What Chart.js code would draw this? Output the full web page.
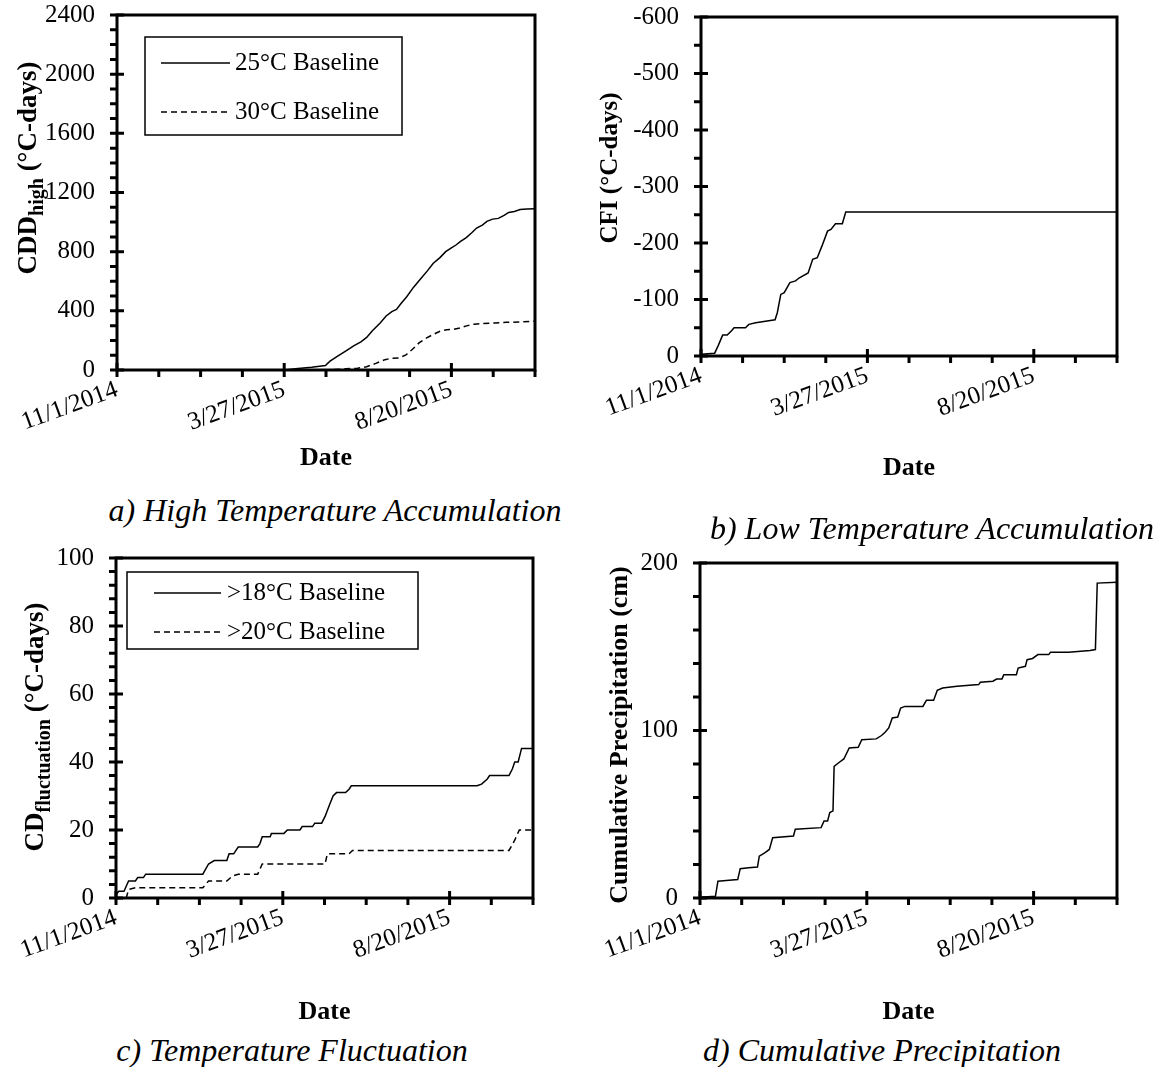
<!DOCTYPE html>
<html>
<head>
<meta charset="utf-8">
<script src="https://cdn.jsdelivr.net/npm/chart.js@4"></script>
<style>
  body { margin: 0; background: #fff; }
  #page { position: relative; width: 1162px; height: 1067px; overflow: hidden; }
  .panel { position: absolute; }
  .caption {
    position: absolute; width: 600px; text-align: center;
    font: italic 32px 'Liberation Serif', 'Times New Roman', serif;
    line-height: 38px; color: #000; white-space: nowrap;
  }
</style>
</head>
<body>
<div id="page">
  <canvas class="panel" id="chartA" width="560" height="474" style="left:0;top:0"></canvas>
  <canvas class="panel" id="chartB" width="582" height="484" style="left:580px;top:0"></canvas>
  <canvas class="panel" id="chartC" width="560" height="488" style="left:0;top:540px"></canvas>
  <canvas class="panel" id="chartD" width="582" height="488" style="left:580px;top:540px"></canvas>
  <div class="caption" style="left:35px;top:491px">a) High Temperature Accumulation</div>
  <div class="caption" style="left:632px;top:509px">b) Low Temperature Accumulation</div>
  <div class="caption" style="left:-8px;top:1031px">c) Temperature Fluctuation</div>
  <div class="caption" style="left:582px;top:1031px">d) Cumulative Precipitation</div>
</div>
<script>
// x values are days since 11/1/2014
var xTickDays = [0, 146, 292];
var xTickLabels = ['11/1/2014', '3/27/2015', '8/20/2015'];
var xMinorStep = 36.5;

// a) cooling degree days
var cdd25Days = [146, 158, 170, 182, 186, 192, 201, 207, 213, 218, 223, 230, 235, 240, 244, 248, 253, 259, 265, 271, 276, 282, 287, 292, 296, 300, 305, 310, 314, 319, 323, 328, 333, 338, 342, 347, 352, 358, 365];
var cdd25 = [0, 10, 18, 30, 60, 90, 135, 165, 190, 220, 265, 320, 365, 395, 410, 450, 495, 560, 615, 670, 720, 760, 800, 825, 845, 870, 895, 930, 960, 980, 1005, 1020, 1025, 1045, 1065, 1072, 1085, 1088, 1090];
var cdd30Days = [146, 175, 190, 200, 210, 218, 226, 234, 240, 246, 252, 258, 264, 270, 276, 282, 288, 294, 300, 306, 312, 320, 330, 340, 352, 365];
var cdd30 = [0, 0, 3, 8, 12, 22, 45, 70, 80, 82, 100, 140, 185, 215, 240, 262, 272, 275, 285, 300, 310, 315, 318, 322, 325, 330];

// b) cumulative freezing index
var cfiDays = [0, 12, 15, 19, 23, 27, 29, 39, 42, 48, 58, 65, 67, 70, 73, 78, 83, 86, 94, 98, 102, 106, 111, 114, 118, 124, 127, 365];
var cfi = [-3, -5, -18, -37, -37, -45, -50, -50, -56, -59, -62, -64, -77, -109, -112, -130, -133, -138, -147, -171, -174, -194, -221, -224, -234, -234, -255, -255];

// c) fluctuation degree days
var cd18Days = [0, 2.5, 7, 11, 17, 19, 24, 26, 76, 81, 86, 97, 99, 103, 105, 107, 124, 126, 128, 135, 136, 147, 150, 161, 163, 172, 174, 180, 183, 187, 190, 193, 201, 204, 206, 316, 320, 325, 327, 344, 347, 349, 352, 355, 365];
var cd18 = [1, 2, 2, 5, 5, 6, 6, 7, 7, 10, 11, 11, 13, 13, 14, 15, 15, 16, 18, 18, 19, 19, 20, 20, 21, 21, 22, 22, 24, 27.5, 30, 31, 31, 32, 33, 33, 33.5, 35, 36, 36, 38, 40, 40, 44, 44];
var cd20Days = [0, 9, 11, 17, 76, 81, 97, 102, 107, 124, 128, 183, 185, 204, 207, 344, 349, 353, 365];
var cd20 = [0, 0, 2.5, 3, 3, 5, 5, 6.5, 7, 7, 10, 10, 13, 13, 14, 14, 17, 20, 20];

// d) cumulative precipitation (cm)
var rainDays = [0, 13.5, 15.7, 20.5, 33, 35.2, 42.5, 50.3, 51.9, 56.6, 60.7, 63.6, 81.8, 83.4, 106, 108.6, 111.7, 113.6, 116.4, 117.4, 121.1, 125.9, 130.6, 138.5, 141.6, 154.2, 158.9, 162, 165.2, 168.3, 173.1, 175.6, 179.4, 195.1, 198.2, 204.5, 207.7, 212.4, 225, 243.9, 245.4, 256.4, 259.6, 264.3, 265.9, 276.9, 278.5, 284.8, 286.3, 291.1, 295.8, 305.2, 306.8, 322.5, 341.4, 346.1, 347.7, 365];
var rain = [0.4, 1, 10, 10.3, 11, 17.5, 18, 18.5, 25, 27, 29, 36, 37, 41, 42, 46, 46, 51, 52, 78.6, 80.6, 83, 89.6, 90, 94.5, 95, 97, 99, 101.5, 107.5, 108, 113.4, 114.4, 114.4, 118, 118, 124, 125.4, 126.4, 127.4, 128.8, 129.4, 130.7, 130.7, 133.3, 133.3, 137.3, 138.3, 142.3, 143, 145.3, 145.3, 146.7, 146.7, 147.7, 148.3, 188, 188.5];

var serif = "'Liberation Serif', 'Times New Roman', serif";
Chart.defaults.font.family = serif;
Chart.defaults.color = '#000';

function points(days, vals) {
    return days.map(function (d, i) { return { x: d, y: vals[i] }; });
}

function series(label, days, vals, dash) {
    return {
        label: label,
        data: points(days, vals),
        borderColor: '#000',
        borderWidth: 1.5,
        borderDash: dash || [],
        pointRadius: 0,
        tension: 0,
        fill: false
    };
}

// plot frame with cross major ticks and outside minor ticks
var frame = {
    id: 'frame',
    afterDatasetsDraw: function (chart, args, opts) {
        var ctx = chart.ctx, a = chart.chartArea, x = chart.scales.x, y = chart.scales.y;
        ctx.save();
        ctx.strokeStyle = '#000';
        ctx.lineWidth = 3;
        ctx.strokeRect(a.left, a.top, a.right - a.left, a.bottom - a.top);
        ctx.beginPath();
        for (var k = 0; k * xMinorStep <= 365.01; k++) {
            var px = x.getPixelForValue(k * xMinorStep);
            ctx.moveTo(px, a.bottom - (k % 4 === 0 ? 7 : 0));
            ctx.lineTo(px, a.bottom + 7);
        }
        var majors = y.ticks.map(function (t) { return t.value; });
        for (var v = y.min; v <= y.max + 1e-6; v += opts.yMinor) {
            var py = y.getPixelForValue(v);
            var major = majors.some(function (m) { return Math.abs(m - v) < 1e-6; });
            ctx.moveTo(a.left - 7, py);
            ctx.lineTo(a.left + (major ? 7 : 0), py);
        }
        ctx.stroke();
        ctx.restore();
    }
};

// rotated y title, with optional subscript part
var axisTitle = {
    id: 'axisTitle',
    afterDraw: function (chart, args, opts) {
        var ctx = chart.ctx;
        var big = 'bold ' + opts.size + 'px ' + serif;
        var small = 'bold ' + Math.round(opts.size * 0.74) + 'px ' + serif;
        ctx.save();
        ctx.translate(opts.x, opts.y);
        ctx.rotate(-Math.PI / 2);
        ctx.fillStyle = '#000';
        ctx.textBaseline = 'middle';
        ctx.textAlign = 'left';
        ctx.font = big;
        var w1 = ctx.measureText(opts.text).width;
        var w3 = opts.after ? ctx.measureText(opts.after).width : 0;
        ctx.font = small;
        var w2 = opts.sub ? ctx.measureText(opts.sub).width : 0;
        var cx = -(w1 + w2 + w3) / 2;
        ctx.font = big;
        ctx.fillText(opts.text, cx, 0);
        cx += w1;
        if (opts.sub) {
            ctx.font = small;
            ctx.fillText(opts.sub, cx, opts.size * 0.32);
            cx += w2;
            ctx.font = big;
            ctx.fillText(opts.after, cx, 0);
        }
        ctx.restore();
    }
};

// boxed legend inside the plot area
var boxLegend = {
    id: 'boxLegend',
    afterDatasetsDraw: function (chart, args, opts) {
        if (!opts.show) return;
        var ctx = chart.ctx, a = chart.chartArea;
        var bx = a.left + opts.left, by = a.top + opts.top;
        ctx.save();
        ctx.fillStyle = '#fff';
        ctx.fillRect(bx, by, opts.width, opts.height);
        ctx.strokeStyle = '#000';
        ctx.lineWidth = 1.5;
        ctx.strokeRect(bx, by, opts.width, opts.height);
        ctx.font = '25px ' + serif;
        ctx.fillStyle = '#000';
        ctx.textBaseline = 'middle';
        chart.data.datasets.forEach(function (ds, i) {
            var ly = by + opts.rowTop + i * opts.rowGap;
            ctx.setLineDash(ds.borderDash);
            ctx.lineWidth = ds.borderWidth;
            ctx.beginPath();
            ctx.moveTo(bx + opts.lineStart, ly);
            ctx.lineTo(bx + opts.lineEnd, ly);
            ctx.stroke();
            ctx.setLineDash([]);
            ctx.fillText(ds.label, bx + opts.textStart, ly);
        });
        ctx.restore();
    }
};

function makeChart(id, cfg) {
    return new Chart(document.getElementById(id), {
        type: 'line',
        data: { datasets: cfg.datasets },
        plugins: [frame, boxLegend, axisTitle],
        options: {
            responsive: false,
            animation: false,
            layout: { padding: { left: 0, top: cfg.padTop, right: cfg.padRight, bottom: 0 } },
            scales: {
                x: {
                    type: 'linear', min: 0, max: 365,
                    grid: { display: false, drawTicks: false },
                    border: { display: false },
                    afterBuildTicks: function (s) { s.ticks = xTickDays.map(function (v) { return { value: v }; }); },
                    afterFit: function (s) { s.height = cfg.xHeight; s.paddingLeft = 0; s.paddingRight = 0; },
                    ticks: {
                        autoSkip: false, minRotation: 20, maxRotation: 20, padding: 5,
                        font: { size: 25 },
                        callback: function (v) { var i = xTickDays.indexOf(v); return i < 0 ? '' : xTickLabels[i]; }
                    },
                    title: { display: true, text: 'Date', font: { size: 26, weight: 'bold' }, padding: 0 }
                },
                y: {
                    type: 'linear', min: cfg.yMin, max: cfg.yMax, reverse: !!cfg.reverse,
                    grid: { display: false, drawTicks: false },
                    border: { display: false },
                    afterFit: function (s) { s.width = cfg.yWidth; s.paddingTop = 0; s.paddingBottom = 0; },
                    ticks: {
                        stepSize: cfg.yStep, padding: 22, font: { size: 25 },
                        callback: function (v) { return String(v); }
                    }
                }
            },
            plugins: {
                legend: { display: false },
                tooltip: { enabled: false },
                frame: { yMinor: cfg.yMinor },
                axisTitle: cfg.title,
                boxLegend: cfg.legend || { show: false }
            }
        }
    });
}

makeChart('chartA', {
    datasets: [
        series('25°C Baseline', cdd25Days, cdd25),
        series('30°C Baseline', cdd30Days, cdd30, [6, 4])
    ],
    padTop: 15, padRight: 25, xHeight: 104, yWidth: 117,
    yMin: 0, yMax: 2400, yStep: 400, yMinor: 100,
    title: { x: 29, y: 168, size: 27, text: 'CDD', sub: 'high', after: ' (°C-days)' },
    legend: { show: true, left: 28, top: 22, width: 257, height: 98, rowTop: 26, rowGap: 49, lineStart: 16, lineEnd: 85, textStart: 90 }
});

makeChart('chartB', {
    datasets: [series('CFI', cfiDays, cfi)],
    padTop: 17, padRight: 45, xHeight: 128, yWidth: 121,
    yMin: -600, yMax: 0, yStep: 100, yMinor: 50, reverse: true,
    title: { x: 31, y: 168, size: 25, text: 'CFI (°C-days)' }
});

makeChart('chartC', {
    datasets: [
        series('>18°C Baseline', cd18Days, cd18),
        series('>20°C Baseline', cd20Days, cd20, [6, 4])
    ],
    padTop: 18, padRight: 27, xHeight: 130, yWidth: 116,
    yMin: 0, yMax: 100, yStep: 20, yMinor: 4,
    title: { x: 36, y: 187, size: 27, text: 'CD', sub: 'fluctuation', after: ' (°C-days)' },
    legend: { show: true, left: 11, top: 14, width: 291, height: 77, rowTop: 21, rowGap: 39, lineStart: 27, lineEnd: 94, textStart: 100 }
});

makeChart('chartD', {
    datasets: [series('Cumulative Precipitation', rainDays, rain)],
    padTop: 23, padRight: 45, xHeight: 130, yWidth: 120,
    yMin: 0, yMax: 200, yStep: 100, yMinor: 20,
    title: { x: 40, y: 195, size: 26, text: 'Cumulative Precipitation (cm)' }
});
</script>
</body>
</html>
